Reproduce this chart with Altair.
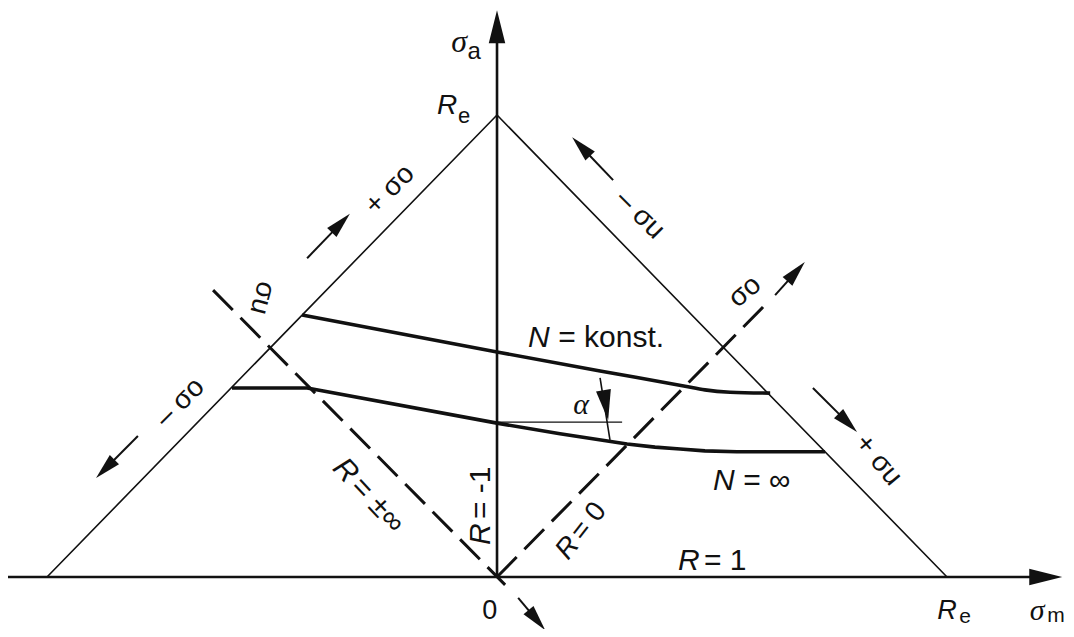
import math
import altair as alt
import pandas as pd

# ---------------- data (units: stress / Re) ----------------
TRIANGLE_M = [-1.0, 0.0, 1.0]
TRIANGLE_A = [0.0, 1.0, 0.0]

N_KONST_M = [-0.433, 0.0, 0.229, 0.418, 0.462, 0.518, 0.607]
N_KONST_A = [0.567, 0.487, 0.446, 0.413, 0.405, 0.400, 0.398]

N_INF_M = [-0.589, -0.422, 0.0, 0.140, 0.289, 0.351, 0.407, 0.462, 0.533, 0.729]
N_INF_A = [0.409, 0.409, 0.333, 0.310, 0.288, 0.281, 0.277, 0.273, 0.271, 0.271]

R_INF_M = [-0.631, 0.018]
R_INF_A = [0.621, -0.017]
R_ZERO_M = [0.0, 0.607]
R_ZERO_A = [0.0, 0.600]

ALPHA_REF_M = [0.0, 0.278]
ALPHA_REF_A = [0.335, 0.335]
ALPHA_ARROW_M = [0.229, 0.251]
ALPHA_ARROW_A = [0.431, 0.297]
ALPHA_TIP_M = [0.247]
ALPHA_TIP_A = [0.340]

ARROW_KIND = ["axis", "axis", "edge", "edge", "edge", "edge", "edge", "edge"]
ARROW_START_M = [-1.087, 0.0, -0.422, -0.798, 0.258, 0.702, 0.618, 0.047]
ARROW_START_A = [0.0, 0.0, 0.690, 0.305, 0.859, 0.409, 0.610, -0.045]
ARROW_TIP_M = [1.256, 0.0, -0.327, -0.891, 0.167, 0.800, 0.684, 0.107]
ARROW_TIP_A = [0.0, 1.227, 0.786, 0.214, 0.952, 0.314, 0.682, -0.115]

LABEL_TEXT = ["σ", "a", "R", "e", "R", "e", "σ", "m", "0",
              "N", "= konst.", "N", "= ∞", "R", "= 1",
              "R", "= -1", "R", "= ±∞", "R", "= 0",
              "+ σo", "– σo", "σu", "– σu", "σo", "+ σu", "α"]
LABEL_M = [-0.084, -0.051, -0.111, -0.073, 1.000, 1.040, 1.200, 1.242, -0.016,
           0.069, 0.136, 0.480, 0.547, 0.402, 0.460,
           -0.016, -0.016, -0.353, -0.353, 0.144, 0.144,
           -0.238, -0.704, -0.522, 0.318, 0.551, 0.847, 0.187]
LABEL_A = [1.158, 1.136, 1.019, 0.998, -0.074, -0.087, -0.074, -0.085, -0.074,
           0.498, 0.498, 0.188, 0.188, 0.015, 0.015,
           0.069, 0.069, 0.247, 0.247, 0.045, 0.045,
           0.838, 0.377, 0.604, 0.784, 0.617, 0.253, 0.372]

# ---------------- layout & styles ----------------
W, H = 1058, 621
X_DOMAIN = [-1.0867, 1.2644]
Y_DOMAIN = [-0.1126, 1.2316]
PX_X = W / (X_DOMAIN[1] - X_DOMAIN[0])
PX_Y = H / (Y_DOMAIN[1] - Y_DOMAIN[0])
INK = "#111111"
SANS = "Liberation Sans"
SERIF = "Liberation Serif"
HEAD = "M0,0L-0.5,2L0.5,2Z"
HEAD_LEN = {"axis": 33, "edge": 26}
SHAFT_W = {"axis": 2.6, "edge": 2.0}

# style per label: (font, size, style, angle, align, baseline, dx)
LABEL_STYLE = [
    (SERIF, 32, "italic", 0, "center", "middle", 0),
    (SANS, 24, "normal", 0, "center", "middle", 0),
    (SANS, 28, "italic", 0, "center", "middle", 0),
    (SANS, 22, "normal", 0, "center", "middle", 0),
    (SANS, 27, "italic", 0, "center", "middle", 0),
    (SANS, 21, "normal", 0, "center", "middle", 0),
    (SERIF, 30, "italic", 0, "center", "middle", 0),
    (SANS, 21, "normal", 0, "center", "middle", 0),
    (SANS, 27, "normal", 0, "center", "middle", 0),
    (SANS, 30, "italic", 0, "left", "alphabetic", 0),
    (SANS, 30, "normal", 0, "left", "alphabetic", 0),
    (SANS, 30, "italic", 0, "left", "alphabetic", 0),
    (SANS, 30, "normal", 0, "left", "alphabetic", 0),
    (SANS, 30, "italic", 0, "left", "alphabetic", 0),
    (SANS, 30, "normal", 0, "left", "alphabetic", 0),
    (SANS, 30, "italic", 270, "left", "alphabetic", 0),
    (SANS, 30, "normal", 270, "left", "alphabetic", 26),
    (SANS, 30, "italic", 47, "left", "middle", 0),
    (SANS, 30, "normal", 47, "left", "middle", 26),
    (SANS, 28, "italic", 308, "left", "middle", 0),
    (SANS, 28, "normal", 308, "left", "middle", 24),
    (SANS, 28, "normal", 315, "center", "middle", 0),
    (SANS, 28, "normal", 315, "center", "middle", 0),
    (SANS, 28, "normal", 105, "center", "middle", 0),
    (SANS, 28, "normal", 45, "center", "middle", 0),
    (SANS, 28, "normal", 320, "center", "middle", 0),
    (SANS, 28, "normal", 50, "center", "middle", 0),
    (SERIF, 30, "italic", 0, "center", "middle", 0),
]

X = alt.X("m:Q", scale=alt.Scale(domain=X_DOMAIN, nice=False, zero=False), axis=None)
Y = alt.Y("a:Q", scale=alt.Scale(domain=Y_DOMAIN, nice=False, zero=False), axis=None)


def polyline(ms, as_, width, dash=None, interp="linear"):
    df = pd.DataFrame({"m": ms, "a": as_, "o": list(range(len(ms)))})
    kw = dict(color=INK, strokeWidth=width, strokeCap="butt", strokeJoin="round",
              interpolate=interp)
    if dash:
        kw["strokeDash"] = dash
    return alt.Chart(df).mark_line(**kw).encode(x=X, y=Y, order="o:Q")


layers = []
layers.append(polyline(TRIANGLE_M, TRIANGLE_A, 1.6))
layers.append(polyline(N_KONST_M, N_KONST_A, 3.6, interp="monotone"))
layers.append(polyline(N_INF_M, N_INF_A, 3.6))
layers.append(polyline(R_INF_M, R_INF_A, 3.0, [28, 11]))
layers.append(polyline(R_ZERO_M, R_ZERO_A, 3.0, [28, 11]))
layers.append(polyline(ALPHA_REF_M, ALPHA_REF_A, 1.3))
layers.append(polyline(ALPHA_ARROW_M, ALPHA_ARROW_A, 1.6))

heads = []
for kind, sm, sa, tm, ta in zip(ARROW_KIND, ARROW_START_M, ARROW_START_A,
                                ARROW_TIP_M, ARROW_TIP_A):
    dxp, dyp = (tm - sm) * PX_X, -(ta - sa) * PX_Y
    ln = math.hypot(dxp, dyp)
    ux, uy = dxp / ln, dyp / ln
    L = HEAD_LEN[kind]
    em = tm - 0.6 * L * ux / PX_X
    ea = ta + 0.6 * L * uy / PX_Y
    layers.append(polyline([sm, em], [sa, ea], SHAFT_W[kind]))
    heads.append({"m": tm, "a": ta,
                  "ang": math.degrees(math.atan2(ux, -uy)) % 360, "sz": L * L})

# alpha arrow head
dxp = (ALPHA_ARROW_M[1] - ALPHA_ARROW_M[0]) * PX_X
dyp = -(ALPHA_ARROW_A[1] - ALPHA_ARROW_A[0]) * PX_Y
heads.append({"m": ALPHA_TIP_M[0], "a": ALPHA_TIP_A[0],
              "ang": math.degrees(math.atan2(dxp, -dyp)) % 360, "sz": 30 * 30})

layers.append(
    alt.Chart(pd.DataFrame(heads))
    .mark_point(shape=HEAD, filled=True, opacity=1, color=INK, strokeWidth=0)
    .encode(x=X, y=Y,
            angle=alt.Angle("ang:Q", scale=None),
            size=alt.Size("sz:Q", scale=None))
)

for t, m, a, st in zip(LABEL_TEXT, LABEL_M, LABEL_A, LABEL_STYLE):
    font, size, style, ang, align, base, dx = st
    layers.append(
        alt.Chart(pd.DataFrame({"m": [m], "a": [a], "t": [t]}))
        .mark_text(font=font, fontSize=size, fontStyle=style, angle=ang,
                   align=align, baseline=base, dx=dx, color=INK)
        .encode(x=X, y=Y, text="t:N")
    )

chart = (
    alt.layer(*layers)
    .properties(width=W, height=H, padding=0, autosize="none", background="white")
    .configure_view(stroke=None)
)

chart.save("out.html", embed_options={"renderer": "svg", "actions": False})
